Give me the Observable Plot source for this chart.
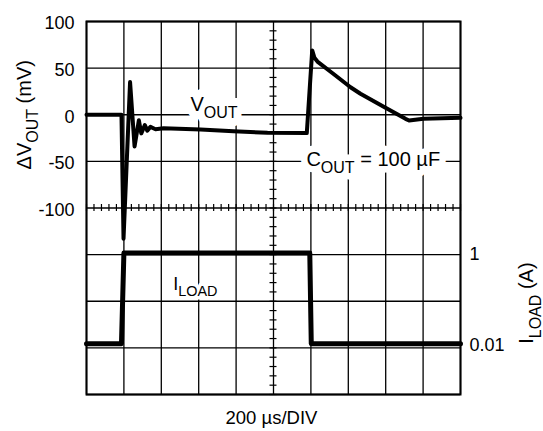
<!DOCTYPE html>
<html><head><meta charset="utf-8">
<script src="https://cdn.jsdelivr.net/npm/d3@7"></script>
<script src="https://cdn.jsdelivr.net/npm/@observablehq/plot@0.6"></script>
<style>
body{margin:0;background:#fff;}
#wrap{position:relative;width:543px;height:431px;overflow:hidden;}
#wrap svg{position:absolute;left:0;top:0;}
</style></head><body><div id="wrap"></div>
<script>
// ---- data ----
const voutTimeUs = [0,187,198,233,257,280,293,312,325,342,369,412,610,786,968,1178,1207,1219,1235,1316,1412,1465,1599,1706,1725,1802,2000];
const voutMv     = [0,0,-133,35,-34,-6,-20,-11,-17,-13,-15.5,-14.4,-15.8,-17.6,-19.4,-19.6,69,61,57,44.5,29.5,22.5,7.4,-4.4,-6.2,-4.4,-3.3];
const iloadTimeUs = [0,187,200,1194,1202,2000];
const iloadA      = [0.01,0.01,1,1,0.01,0.01];
const gridTimesUs = [0,200,400,600,800,1000,1200,1400,1600,1800,2000];
const gridMv = [100,50,0,-50,-100,-150,-200,-250,-300];
const mvTickValues = [100,50,0,-50,-100];
const mvTickLabels = ["100","50","0","-50","-100"];
const ampTickValues = [1,0.01];
const ampTickLabels = ["1","0.01"];
const annotationTexts = ["V_{OUT}","C_{OUT} = 100 µF","I_{LOAD}"];
const leftTitle = "ΔV_{OUT} (mV)";
const rightTitle = "I_{LOAD} (A)";
const xTitle = "200 µs/DIV";

const vout = voutTimeUs.map((t,i)=>({t, mv: voutMv[i]}));
const iload = iloadTimeUs.map((t,i)=>({t, a: iloadA[i]}));
const minorTimes = d3.range(0, 2001, 40);
const minorMv = d3.range(-300, 101, 10);

const FONT = "'Liberation Sans', Arial, Helvetica, sans-serif";
const W = 543, H = 431;
const margins = {marginLeft:86, marginRight:83, marginTop:21, marginBottom:37};

// annotation label: white knockout behind, black text on top
function label(txt, opts, halo){
  return [
    Plot.text([txt], {...opts, text:d=>d, fill:"white", stroke:"white", strokeWidth:halo, strokeLinejoin:"round"}),
    Plot.text([txt], {...opts, text:d=>d, fill:"black"})
  ];
}

const plotA = Plot.plot({
  width:W, height:H, ...margins,
  style:{fontFamily:FONT, background:"white", color:"black", overflow:"visible"},
  x:{domain:[0,2000], axis:null},
  y:{domain:[-300,100], label:null},
  marks:[
    Plot.ruleY(gridMv, {stroke:"black", strokeWidth:1.3}),
    Plot.ruleX(gridTimesUs, {stroke:"black", strokeWidth:1.3}),
    Plot.ruleX(minorTimes, {y1:-103.75, y2:-96.25, stroke:"black", strokeWidth:1.2}),
    Plot.ruleY(minorMv, {x1:1000-18.7, x2:1000+18.7, stroke:"black", strokeWidth:1.2}),
    Plot.frame({stroke:"black", strokeWidth:2}),
    Plot.axisY(mvTickValues, {anchor:"left", tickSize:0, tickPadding:12, fontSize:18, dy:2, label:null,
      tickFormat:(d)=>mvTickLabels[mvTickValues.indexOf(d)]}),
    ...label(annotationTexts[0], {x:556, y:11.4, textAnchor:"start", fontSize:20}, 16),
    ...label(annotationTexts[1], {x:1176, y:-47.6, textAnchor:"start", fontSize:20}, 13),
    ...label(annotationTexts[2], {x:464, y:-181.6, textAnchor:"start", fontSize:18}, 7),
    Plot.text([leftTitle], {x:0, y:0, dx:-62, rotate:-90, text:d=>d, textAnchor:"middle", fontSize:20, fill:"black"}),
    Plot.text([rightTitle], {x:2000, y:-202, dx:66.5, rotate:-90, text:d=>d, textAnchor:"middle", fontSize:20, fill:"black"}),
    Plot.text([xTitle], {x:1000, y:-300, dx:-2, dy:24, text:d=>d, textAnchor:"middle", fontSize:18.5, fill:"black"}),
    Plot.line(vout, {x:"t", y:"mv", stroke:"black", strokeWidth:4})
  ]
});

const plotB = Plot.plot({
  width:W, height:H, ...margins,
  style:{fontFamily:FONT, background:"transparent", color:"black", overflow:"visible"},
  x:{domain:[0,2000], axis:null},
  y:{type:"log", domain:[0.01,1], range:[343.3,252.5], label:null},
  marks:[
    Plot.line(iload, {x:"t", y:"a", stroke:"black", strokeWidth:5}),
    Plot.axisY(ampTickValues, {anchor:"right", tickSize:0, tickPadding:9, fontSize:18, dy:1, label:null,
      tickFormat:(d)=>ampTickLabels[ampTickValues.indexOf(d)]})
  ]
});

const wrap = document.getElementById("wrap");
wrap.appendChild(plotA);
wrap.appendChild(plotB);

// subscripts: "X_{SUB}Y" -> tspans
function applySubscripts(svg){
  d3.select(svg).selectAll("text").each(function(){
    const el = this;
    const s = el.textContent;
    const m = s.match(/^(.*?)_\{(.*?)\}(.*)$/);
    if(!m) return;
    const fs = parseFloat(getComputedStyle(el).fontSize) || 20;
    const subFs = fs*0.8;
    const shift = fs*0.36;
    while(el.firstChild) el.removeChild(el.firstChild);
    const sel = d3.select(el);
    sel.append("tspan").text(m[1]);
    sel.append("tspan").attr("font-size", subFs).attr("dy", shift).text(m[2]);
    if(m[3]) sel.append("tspan").attr("dy", -shift).text(m[3]);
  });
}
applySubscripts(plotA);
applySubscripts(plotB);
</script></body></html>
